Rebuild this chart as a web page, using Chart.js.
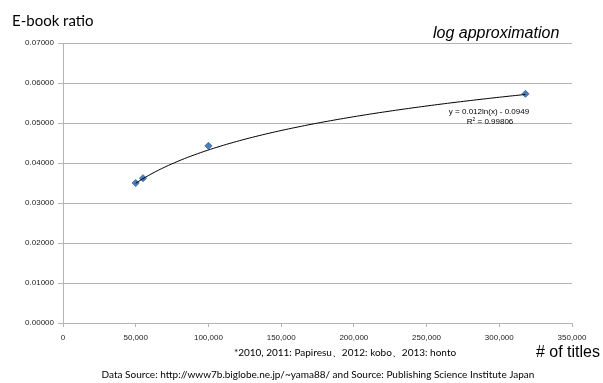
<!DOCTYPE html>
<html>
<head>
<meta charset="utf-8">
<script src="https://cdn.jsdelivr.net/npm/chart.js@4/dist/chart.umd.min.js"></script>
<style>
  html, body { margin: 0; padding: 0; background: #fff; }
  #wrap { width: 603px; height: 383px; position: relative; }
</style>
</head>
<body>
<div id="wrap"><canvas id="c" width="603" height="383"></canvas></div>
<script>
// Number of titles per store and the matching e-book ratio
const titles = [50000, 55000, 100000, 318000];
const ebookRatio = [0.0350, 0.0362, 0.0443, 0.0573];

// Logarithmic trend: y = a*ln(x) + b
const trendA = 0.012;
const trendB = -0.0949;
const trendR2 = '0.99806';

const yTicks = [0, 0.01, 0.02, 0.03, 0.04, 0.05, 0.06, 0.07];
const xTicks = [0, 50000, 100000, 150000, 200000, 250000, 300000, 350000];

const points = titles.map((t, i) => ({ x: t, y: ebookRatio[i] }));

// Draws the fitted log curve between the first and last observation
const trendPlugin = {
  id: 'trend',
  afterDatasetsDraw(chart) {
    const { ctx, scales: { x, y } } = chart;
    const x0 = Math.min(...titles), x1 = Math.max(...titles);
    ctx.save();
    ctx.strokeStyle = '#000';
    ctx.lineWidth = 1;
    ctx.beginPath();
    const steps = 120;
    for (let i = 0; i <= steps; i++) {
      const xv = x0 + (x1 - x0) * i / steps;
      const yv = trendA * Math.log(xv) + trendB;
      const px = x.getPixelForValue(xv), py = y.getPixelForValue(yv);
      if (i === 0) ctx.moveTo(px, py); else ctx.lineTo(px, py);
    }
    ctx.stroke();
    ctx.restore();
  }
};

// Titles, equation and footnotes
const textPlugin = {
  id: 'texts',
  afterDraw(chart) {
    const { ctx } = chart;
    ctx.save();
    ctx.fillStyle = '#000';
    ctx.textBaseline = 'middle';

    ctx.font = '15px Lato';
    ctx.textAlign = 'left';
    ctx.fillText('E-book ratio', 12, 21);

    ctx.font = 'italic 16px "Liberation Sans"';
    ctx.fillText('log approximation', 433, 34);

    ctx.font = '8px "Liberation Sans"';
    ctx.textAlign = 'center';
    ctx.fillText('y = 0.012ln(x) - 0.0949', 489, 112);

    // R² line: base text plus a raised small "2"
    const rest = ' = ' + trendR2;
    ctx.textAlign = 'left';
    const wR = ctx.measureText('R').width;
    ctx.font = '5px "Liberation Sans"';
    const w2 = ctx.measureText('2').width;
    ctx.font = '8px "Liberation Sans"';
    const wRest = ctx.measureText(rest).width;
    let sx = 490 - (wR + w2 + wRest) / 2;
    ctx.fillText('R', sx, 122);
    ctx.font = '5px "Liberation Sans"';
    ctx.fillText('2', sx + wR, 119.5);
    ctx.font = '8px "Liberation Sans"';
    ctx.fillText(rest, sx + wR + w2, 122);

    ctx.textAlign = 'center';
    ctx.font = '10px Lato';
    ctx.fillText('*2010, 2011: Papiresu\u30012012: kobo\u30012013: honto', 345, 353);
    ctx.fillText('Data Source: http://www7b.biglobe.ne.jp/~yama88/ and Source: Publishing Science Institute Japan', 318, 375);

    ctx.font = '16px "Liberation Sans"';
    ctx.textAlign = 'right';
    ctx.fillText('# of titles', 600, 353);
    ctx.restore();
  }
};

new Chart(document.getElementById('c'), {
  type: 'scatter',
  data: {
    datasets: [{
      data: points,
      pointStyle: 'rectRot',
      pointRadius: 3.5,
      pointHoverRadius: 3.5,
      backgroundColor: '#4a7ebb',
      borderColor: '#3d6da8',
      borderWidth: 1
    }]
  },
  options: {
    responsive: false,
    animation: false,
    events: [],
    layout: { padding: { left: 0, top: 43, right: 31, bottom: 0 } },
    plugins: { legend: { display: false }, tooltip: { enabled: false } },
    scales: {
      x: {
        type: 'linear',
        min: 0, max: 350000,
        afterBuildTicks(s) { s.ticks = xTicks.map(v => ({ value: v })); },
        afterFit(s) { s.height = 60; },
        grid: { drawOnChartArea: false, color: '#b5b5b5', tickLength: 4 },
        border: { color: '#b5b5b5', width: 1 },
        ticks: {
          color: '#222',
          font: { family: '"Liberation Sans"', size: 8 },
          padding: 6,
          maxRotation: 0,
          callback: v => v.toLocaleString('en-US')
        }
      },
      y: {
        min: 0, max: 0.07,
        afterBuildTicks(s) { s.ticks = yTicks.map(v => ({ value: v })); },
        afterFit(s) { s.width = 63; },
        grid: { color: '#b5b5b5', tickLength: 5 },
        border: { color: '#b5b5b5', width: 1 },
        ticks: {
          color: '#222',
          font: { family: '"Liberation Sans"', size: 8 },
          padding: 4,
          callback: v => v.toFixed(5)
        }
      }
    }
  },
  plugins: [trendPlugin, textPlugin]
});
</script>
</body>
</html>
